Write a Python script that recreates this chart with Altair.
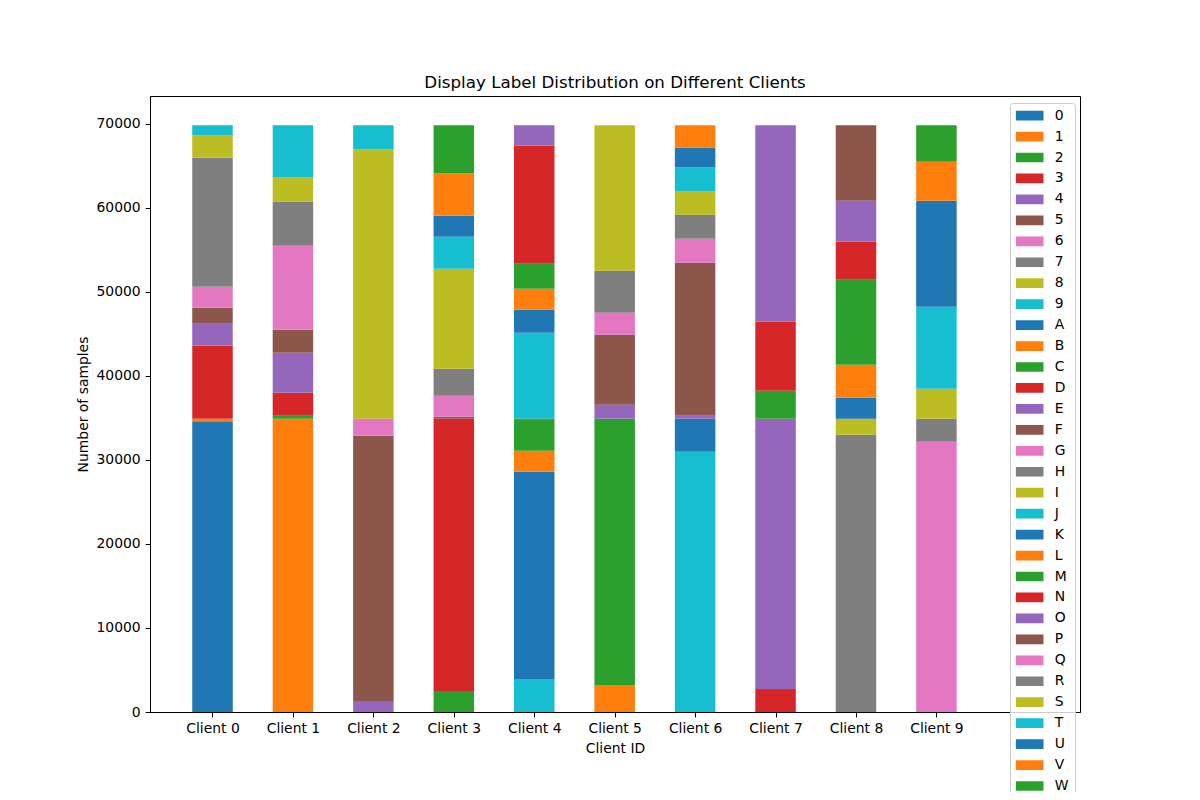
import altair as alt
import pandas as pd

clients = ["Client 0", "Client 1", "Client 2", "Client 3", "Client 4",
           "Client 5", "Client 6", "Client 7", "Client 8", "Client 9"]
classes = list("0123456789ABCDEFGHIJKLMNOPQRSTUVWXYZabcdefghijklmnopqrstuvwxyz")
tab10 = ["#1f77b4", "#ff7f0e", "#2ca02c", "#d62728", "#9467bd",
         "#8c564b", "#e377c2", "#7f7f7f", "#bcbd22", "#17becf"]

client0_labels = ["0", "1", "h", "i", "j", "k", "l", "m", "n"]
client0_counts = [34600, 280, 8730, 2580, 1900, 2500, 15360, 2620, 1220]
client1_labels = ["1", "W", "X", "Y", "Z", "a", "b", "c", "d"]
client1_counts = [34880, 360, 2740, 4760, 2740, 10000, 5240, 2860, 6210]
client2_labels = ["4", "5", "6", "8", "9"]
client2_counts = [1310, 31550, 2020, 32060, 2850]
client3_labels = ["2", "3", "F", "G", "H", "I", "J", "K", "L", "M"]
client3_counts = [2500, 32380, 240, 2500, 3210, 11910, 3810, 2500, 5000, 5740]
client4_labels = ["d", "e", "f", "g", "h", "n", "o", "p", "q", "r", "s"]
client4_counts = [3930, 24640, 2500, 3690, 120, 10240, 2740, 2500, 2970, 14050, 2410]
client5_labels = ["1", "2", "O", "P", "Q", "R", "S"]
client5_counts = [3210, 31670, 1670, 8330, 2620, 5000, 17290]
client6_labels = ["9", "A", "s", "t", "u", "v", "w", "x", "y", "z"]
client6_counts = [30950, 3930, 360, 18210, 2860, 2860, 2740, 2860, 2380, 2640]
client7_labels = ["3", "4", "M", "N", "O"]
client7_counts = [2740, 32140, 3330, 8220, 23360]
client8_labels = ["7", "8", "A", "B", "C", "D", "E", "F"]
client8_counts = [32980, 1900, 2500, 3930, 10120, 4520, 4880, 8960]
client9_labels = ["6", "7", "S", "T", "U", "V", "W"]
client9_counts = [32140, 2740, 3570, 9760, 12620, 4640, 4320]

all_labels = [client0_labels, client1_labels, client2_labels, client3_labels, client4_labels,
              client5_labels, client6_labels, client7_labels, client8_labels, client9_labels]
all_counts = [client0_counts, client1_counts, client2_counts, client3_counts, client4_counts,
              client5_counts, client6_counts, client7_counts, client8_counts, client9_counts]

rows = []
for i, (labs, cnts) in enumerate(zip(all_labels, all_counts)):
    for lab, cnt in zip(labs, cnts):
        rows.append({"client": i, "client_name": clients[i], "label": lab,
                     "count": cnt, "order": classes.index(lab)})
df = pd.DataFrame(rows)

colors = [tab10[i % 10] for i in range(len(classes))]
FONT = "DejaVu Sans"

chart = alt.Chart(df).mark_bar(size=40.5).encode(
    x=alt.X("client:Q",
            scale=alt.Scale(domain=[-0.777, 10.785], nice=False, zero=False, padding=0),
            axis=alt.Axis(values=list(range(10)), labelExpr="'Client ' + datum.value",
                          title="Client ID")),
    y=alt.Y("count:Q", stack="zero",
            scale=alt.Scale(domain=[0, 73283], nice=False),
            axis=alt.Axis(values=list(range(0, 70001, 10000)), format="d",
                          title="Number of samples")),
    color=alt.Color("label:N",
                    scale=alt.Scale(domain=classes, range=colors),
                    legend=alt.Legend(title=None, orient="none", legendX=860, legendY=7,
                                      symbolType="M-1,-0.35H1V0.35H-1Z", symbolSize=773,
                                      symbolStrokeWidth=0, symbolOpacity=1,
                                      labelFont=FONT, labelFontSize=13.9, labelColor="black",
                                      labelOffset=11.1, rowPadding=6.95, clipHeight=14,
                                      padding=5.6, strokeColor="#cccccc",
                                      fillColor="rgba(255,255,255,0.8)", cornerRadius=3,
                                      symbolLimit=62)),
    order=alt.Order("order:Q", sort="ascending"),
).properties(
    width=930, height=616,
    autosize=alt.AutoSizeParams(type="none"),
    padding={"left": 142, "top": 88, "right": 100, "bottom": 80},
    title=alt.TitleParams("Display Label Distribution on Different Clients",
                          fontSize=16.7, fontWeight="normal", font=FONT,
                          anchor="middle", frame="group", offset=4, color="black"),
).configure_view(
    stroke="black", strokeWidth=1
).configure_axis(
    grid=False, domainColor="black", tickColor="black", labelColor="black",
    titleColor="black", tickSize=4.9, tickWidth=1, domainWidth=1,
    labelPadding=4.9, labelFont=FONT, labelFontSize=13.9, titleFont=FONT,
    titleFontSize=13.9, titleFontWeight="normal", titlePadding=5.6
)

chart.save("out.html", embed_options={"renderer": "svg", "actions": False})
